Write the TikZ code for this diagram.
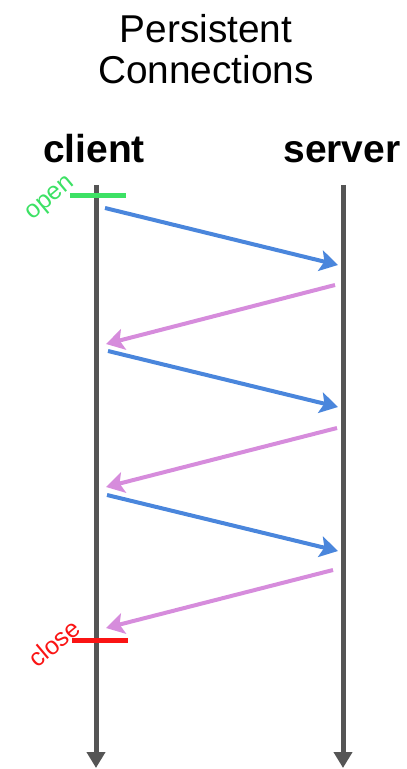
\documentclass[tikz,border=0pt]{standalone}
\usepackage{fontspec}
\setmainfont{Liberation Sans}
\usepackage{xcolor}
\usetikzlibrary{arrows.meta, positioning}

\definecolor{lifegray}{RGB}{85,85,85}
\definecolor{reqblue}{RGB}{74,134,220}
\definecolor{resppink}{RGB}{214,140,220}
\definecolor{opengreen}{RGB}{60,225,100}
\definecolor{closered}{RGB}{250,20,20}

\tikzset{
    lifeline/.style={draw=lifegray, line width=2.5pt, -{Triangle[width=9pt, length=8pt]}},
    request/.style={draw=reqblue, line width=2pt, -{Stealth[width=10.5pt, length=9pt, inset=2pt]}},
    response/.style={draw=resppink, line width=2pt, -{Stealth[width=10.5pt, length=9pt, inset=2pt]}},
    marker/.style={line width=2.5pt},
    heading/.style={font=\fontsize{19.4}{20.5}\selectfont, align=center, inner sep=0pt},
    party/.style={font=\fontsize{19.5}{22}\selectfont\bfseries, inner sep=0pt, anchor=base},
    state/.style={font=\fontsize{12.5}{14}\selectfont, inner sep=0pt, rotate=40}
}

\begin{document}
\begin{tikzpicture}[x=0.5pt, y=-0.5pt]
    \useasboundingbox (0,0) rectangle (406,769);

    % title and the two parties
    \node[heading, anchor=north] (title) at (206,14) {Persistent\\Connections};
    \node[party] (client) at (94,163) {client};
    \node[party] (server) at (342,163) {server};

    % lifelines
    \coordinate (client top) at (96,185);
    \coordinate (client end) at (96,768);
    \coordinate (server top) at (343,185);
    \coordinate (server end) at (343,768);
    \draw[lifeline] (client top) -- (client end);
    \draw[lifeline] (server top) -- (server end);

    % open / close of the connection
    \coordinate (open l) at (70,196);
    \coordinate (open r) at (126,196);
    \draw[marker, opengreen] (open l) -- (open r);
    \node[state, text=opengreen] (open) at (51,199) {open};

    \coordinate (close l) at (72,640);
    \coordinate (close r) at (128,640);
    \draw[marker, closered] (close l) -- (close r);
    \node[state, text=closered] (close) at (54,643) {close};

    % requests and responses
    \coordinate (req1 s) at (105,208);
    \coordinate (req1 e) at (338,265);
    \coordinate (resp1 s) at (335,285);
    \coordinate (resp1 e) at (106,344);
    \coordinate (req2 s) at (108,351);
    \coordinate (req2 e) at (338,407);
    \coordinate (resp2 s) at (337,428);
    \coordinate (resp2 e) at (106,487);
    \coordinate (req3 s) at (107,495);
    \coordinate (req3 e) at (338,551);
    \coordinate (resp3 s) at (333,570);
    \coordinate (resp3 e) at (106,628);

    \draw[request] (req1 s) -- (req1 e);
    \draw[response] (resp1 s) -- (resp1 e);
    \draw[request] (req2 s) -- (req2 e);
    \draw[response] (resp2 s) -- (resp2 e);
    \draw[request] (req3 s) -- (req3 e);
    \draw[response] (resp3 s) -- (resp3 e);
\end{tikzpicture}
\end{document}
